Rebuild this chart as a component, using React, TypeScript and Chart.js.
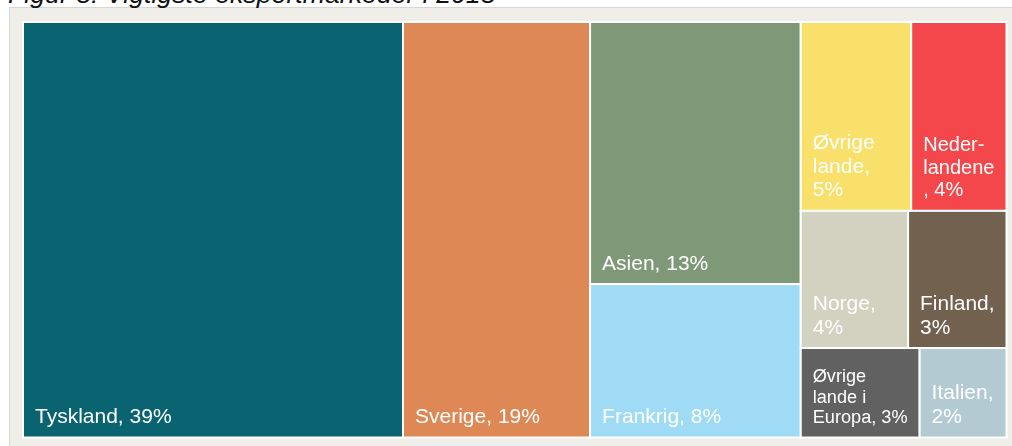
import React, { useEffect, useRef } from "react";
import { Chart, registerables } from "chart.js";

Chart.register(...registerables);

// ---- data ----
const categories = [
  "Tyskland",
  "Sverige",
  "Asien",
  "Frankrig",
  "Øvrige lande",
  "Nederlandene",
  "Norge",
  "Finland",
  "Øvrige lande i Europa",
  "Italien",
];
const shares = [38.6, 19.0, 13.5, 7.9, 5.1, 4.4, 3.6, 3.3, 2.6, 1.9];
const labelLines = [
  ["Tyskland, 39%"],
  ["Sverige, 19%"],
  ["Asien, 13%"],
  ["Frankrig, 8%"],
  ["Øvrige", "lande,", "5%"],
  ["Neder-", "landene", ", 4%"],
  ["Norge,", "4%"],
  ["Finland,", "3%"],
  ["Øvrige", "lande i", "Europa, 3%"],
  ["Italien,", "2%"],
];
const cellColors = [
  "#0a6370",
  "#dd8855",
  "#7f9978",
  "#a0dbf6",
  "#f9e06a",
  "#f4474c",
  "#d3d2c0",
  "#73614f",
  "#616161",
  "#b3cad3",
];
const titleText = "Figur 5: Vigtigste eksportmarkeder i 2018";

const TARGET = 1.618;
const BASE_FONT = 21;
const PAD = 12;

type Cell = { x: number; y: number; w: number; h: number; i: number };

function squarify(values: number[], W: number, H: number): Cell[] {
  const total = values.reduce((a, b) => a + b, 0);
  const areas = values.map((v) => (v / total) * W * H);
  const cells: Cell[] = [];
  let rx = 0, ry = 0, rw = W, rh = H;
  let i0 = 0;
  const metric = (w: number, h: number) => Math.max(h / w, (TARGET * w) / h);
  const worst = (from: number, to: number, vertical: boolean) => {
    let s = 0;
    for (let k = from; k < to; k++) s += areas[k];
    const side = vertical ? rh : rw;
    const t = s / side;
    let m = 0;
    for (let k = from; k < to; k++) {
      const len = areas[k] / t;
      const w = vertical ? t : len;
      const h = vertical ? len : t;
      m = Math.max(m, metric(w, h));
    }
    return m;
  };
  while (i0 < areas.length) {
    const vertical = rw >= rh;
    let i1 = i0 + 1;
    let cur = worst(i0, i1, vertical);
    while (i1 < areas.length) {
      const next = worst(i0, i1 + 1, vertical);
      if (next > cur) break;
      cur = next;
      i1++;
    }
    let s = 0;
    for (let k = i0; k < i1; k++) s += areas[k];
    if (vertical) {
      const t = s / rh;
      let yy = ry;
      for (let k = i0; k < i1; k++) {
        const len = areas[k] / t;
        cells.push({ x: rx, y: yy, w: t, h: len, i: k });
        yy += len;
      }
      rx += t;
      rw -= t;
    } else {
      const t = s / rw;
      let xx = rx;
      for (let k = i0; k < i1; k++) {
        const len = areas[k] / t;
        cells.push({ x: xx, y: ry, w: len, h: t, i: k });
        xx += len;
      }
      ry += t;
      rh -= t;
    }
    i0 = i1;
  }
  return cells;
}

const fontStr = (s: number) => `${s}px 'Liberation Sans', Arial, sans-serif`;

const treemapPlugin = {
  id: "treemapCells",
  afterDraw(chart: any) {
    const { ctx, chartArea, scales } = chart;
    const W = chartArea.right - chartArea.left;
    const H = chartArea.bottom - chartArea.top;
    const cells = squarify(shares, W, H);
    ctx.save();
    for (const c of cells) {
      const x0 = scales.x.getPixelForValue(c.x / W);
      const x1 = scales.x.getPixelForValue((c.x + c.w) / W);
      const y0 = scales.y.getPixelForValue(c.y / H);
      const y1 = scales.y.getPixelForValue((c.y + c.h) / H);
      ctx.fillStyle = cellColors[c.i];
      ctx.fillRect(x0, y0, x1 - x0, y1 - y0);
      ctx.strokeStyle = "#ffffff";
      ctx.lineWidth = 2;
      ctx.strokeRect(x0, y0, x1 - x0, y1 - y0);
    }
    ctx.fillStyle = "#ffffff";
    ctx.textBaseline = "alphabetic";
    ctx.textAlign = "left";
    for (const c of cells) {
      const x0 = scales.x.getPixelForValue(c.x / W);
      const x1 = scales.x.getPixelForValue((c.x + c.w) / W);
      const y1 = scales.y.getPixelForValue((c.y + c.h) / H);
      const lines = labelLines[c.i];
      ctx.font = fontStr(BASE_FONT);
      const maxW = Math.max(...lines.map((l) => ctx.measureText(l).width));
      const avail = x1 - x0 - 2 * PAD;
      const size = maxW > avail ? (BASE_FONT * avail) / maxW : BASE_FONT;
      ctx.font = fontStr(size);
      const lh = size * 1.12;
      const n = lines.length;
      lines.forEach((ln, k) => {
        const base = y1 - 14.5 - (n - 1 - k) * lh;
        ctx.fillText(ln, x0 + PAD, base);
      });
    }
    ctx.restore();
  },
};

export default function App() {
  const ref = useRef<HTMLCanvasElement | null>(null);
  useEffect(() => {
    if (!ref.current) return;
    const chart = new Chart(ref.current, {
      type: "scatter",
      data: {
        labels: categories,
        datasets: [{ label: "Eksport", data: [], pointRadius: 0 }],
      },
      options: {
        animation: false,
        responsive: false,
        maintainAspectRatio: false,
        layout: { padding: { left: 23, top: 22, right: 5.5, bottom: 8.5 } },
        scales: {
          x: { type: "linear", min: 0, max: 1, display: false },
          y: { type: "linear", min: 0, max: 1, reverse: true, display: false },
        },
        plugins: { legend: { display: false }, tooltip: { enabled: false }, title: { display: false } },
      },
      plugins: [treemapPlugin],
    });
    return () => chart.destroy();
  }, []);
  return (
    <div
      style={{
        position: "fixed",
        left: 0,
        top: 0,
        width: 1012,
        height: 446,
        overflow: "hidden",
        background: "#ffffff",
      }}
    >
      <div
        style={{
          position: "absolute",
          left: 9,
          top: 7,
          width: 1010,
          height: 450,
          background: "#efeee8",
          borderTop: "1px solid #d7d7d1",
          borderLeft: "1px solid #d7d7d1",
        }}
      />
      <div
        style={{
          position: "absolute",
          left: 8,
          top: -19,
          fontFamily: "'Liberation Sans', Arial, sans-serif",
          fontStyle: "italic",
          fontSize: "26.7px",
          lineHeight: "27px",
          color: "#111111",
          whiteSpace: "nowrap",
        }}
      >
        {titleText}
      </div>
      <canvas
        ref={ref}
        width={1012}
        height={446}
        style={{ position: "absolute", left: 0, top: 0, width: 1012, height: 446 }}
      />
    </div>
  );
}
